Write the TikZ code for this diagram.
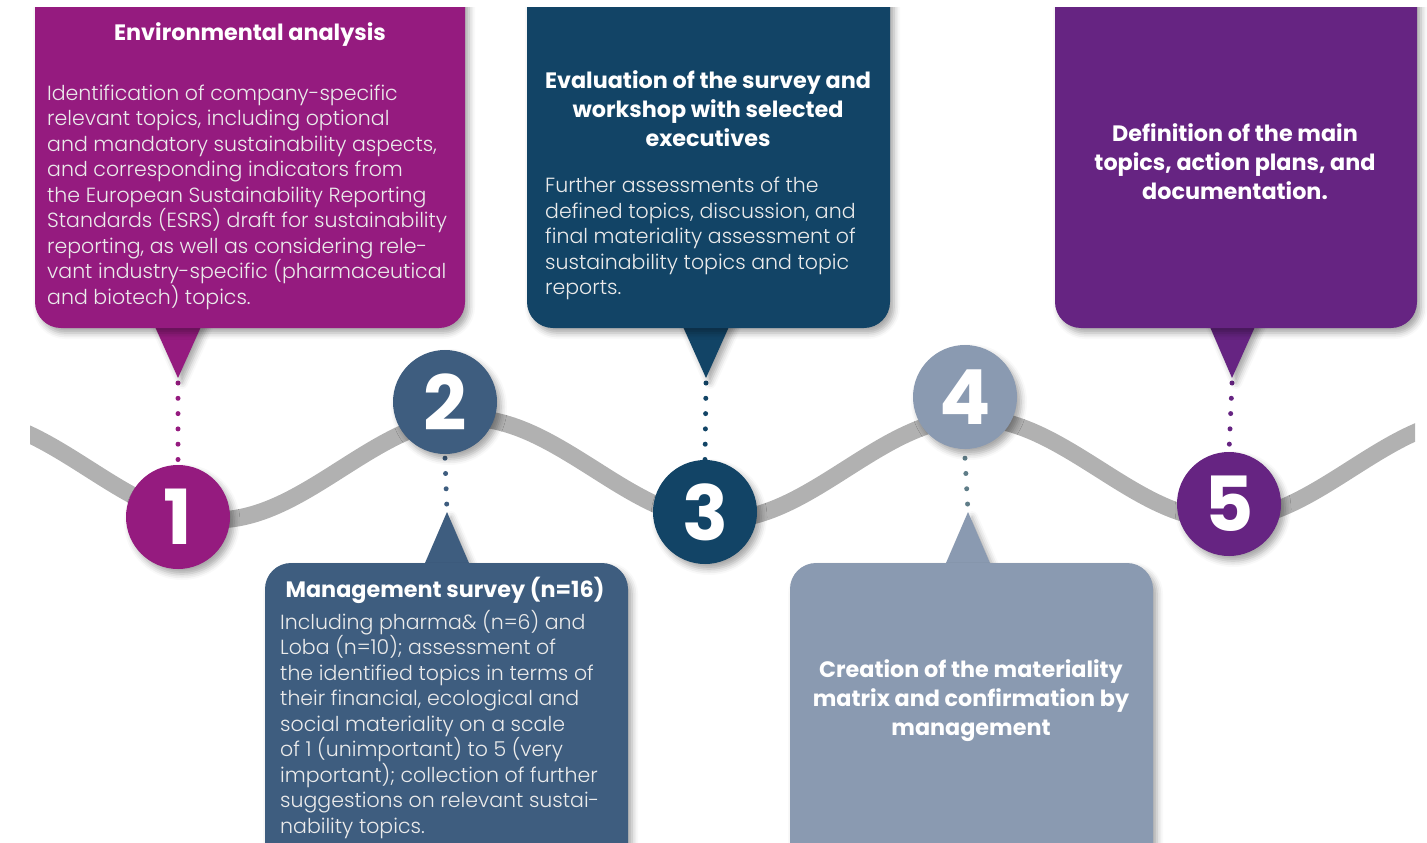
\documentclass[tikz,border=0pt]{standalone}
\usepackage{fontspec}
\setmainfont{Poppins}
\newfontfamily\lightfont{Poppins Light}
\usetikzlibrary{calc,shadows.blur}

\definecolor{stepone}{HTML}{951B7F}
\definecolor{steptwo}{HTML}{3E5D7F}
\definecolor{stepthree}{HTML}{124466}
\definecolor{stepfour}{HTML}{8A9AB1}
\definecolor{stepfive}{HTML}{662482}
\definecolor{dotfour}{HTML}{5F7D88}
\definecolor{wavegray}{HTML}{B1B1B1}

\pgfdeclarelayer{back}
\pgfsetlayers{back,main}

\tikzset{
  shade/.style={blur shadow={shadow xshift=4pt, shadow yshift=-5pt,
      shadow blur radius=6pt, shadow opacity=35}},
  card/.style={fill=#1, rounded corners=26pt, minimum width=363pt,
      minimum height=358pt, inner sep=0pt, shade},
  stepnum/.style={circle, fill=#1, minimum size=104pt, inner sep=0pt,
      text=white, font=\bfseries\fontsize{76}{76}\selectfont, shade},
  title/.style={text=white, align=center, inner sep=0pt,
      font=\bfseries\fontsize{22.3}{29}\selectfont},
  body/.style={text=white!92!black, align=left, inner sep=0pt, anchor=north west,
      font=\lightfont\fontsize{20.5}{25.5}\selectfont},
  dots/.style={#1, line width=5pt, line cap=round, dash pattern=on 0pt off 15.3pt},
  pointer/.style={fill=#1, shade},
}

\begin{document}
\begin{tikzpicture}[x=1pt, y=-1pt]
\useasboundingbox (0,0) rectangle (1427,843);
\clip (0,8) rectangle (1427,843);

% pointers first, the cards cover their shadows
\fill[pointer=stepone] (152,320) -- (178,378) coordinate (tip1) -- (204,320) -- cycle;
\fill[pointer=steptwo] (422,570) -- (447,512) coordinate (tip2) -- (472,570) -- cycle;
\fill[pointer=stepthree] (680,320) -- (706,378) coordinate (tip3) -- (732,320) -- cycle;
\fill[pointer=stepfour] (943,570) -- (968,512) coordinate (tip4) -- (993,570) -- cycle;
\fill[pointer=stepfive] (1207,320) -- (1232,378) coordinate (tip5) -- (1258,320) -- cycle;

% cards
\node[card=stepone, minimum width=430pt] (box1) at (250,149) {};
\node[card=steptwo] (box2) at (446.5,742) {};
\node[card=stepthree] (box3) at (708.5,149) {};
\node[card=stepfour] (box4) at (971.5,742) {};
\node[card=stepfive, minimum width=362pt] (box5) at (1236,149) {};

% texts
\node[title] (t1) at (250,35) {Environmental analysis};
\node[body] (b1) at (47,84.5) {Identification of company-specific\\
relevant topics, including optional\\
and mandatory sustainability aspects,\\
and corresponding indicators from\\
the European Sustainability Reporting\\
Standards (ESRS) draft for sustainability\\
reporting, as well as considering rele-\\
vant industry-specific (pharmaceutical\\
and biotech) topics.};

\node[title] (t2) at (445,590) {Management survey (n=16)};
\node[body] (b2) at (280,610) {Including pharma\& (n=6) and\\
Loba (n=10); assessment of\\
the identified topics in terms of\\
their financial, ecological and\\
social materiality on a scale\\
of 1 (unimportant) to 5 (very\\
important); collection of further\\
suggestions on relevant sustai-\\
nability topics.};

\node[title] (t3) at (708,109) {Evaluation of the survey and\\
workshop with selected\\ executives};
\node[body] (b3) at (545,177) {Further assessments of the\\
defined topics, discussion, and\\
final materiality assessment of\\
sustainability topics and topic\\
reports.};

\node[title] (t4) at (971,701) {Creation of the materiality\\
matrix and confirmation by\\ management};

\node[title] (t5) at (1235,162) {Definition of the main\\
topics, action plans, and\\ documentation.};

% numbered steps
\node[stepnum=stepone] (s1) at (178,517) {1};
\node[stepnum=steptwo] (s2) at (445,402) {2};
\node[stepnum=stepthree] (s3) at (705,512) {3};
\node[stepnum=stepfour] (s4) at (965,397) {4};
\node[stepnum=stepfive] (s5) at (1229,504) {5};

\begin{pgfonlayer}{back}
  \begin{scope}
    \clip (30,0) rectangle (1415,843);
    \draw[wavegray, line width=17pt]
      (-37,418) cos (89,469) sin (215,520) cos (341,469) sin (467,418)
      cos (594,469) sin (720,520) cos (846,469) sin (972,418)
      cos (1099,469) sin (1225,520) cos (1351,469) sin (1477,418);
  \end{scope}
  \draw[dots=stepone] ($(tip1)+(0,5)$) -- (s1.north);
  \draw[dots=steptwo] ($(s2.south)+(0,4)$) -- (tip2);
  \draw[dots=stepthree] ($(tip3)+(0,5)$) -- (s3.north);
  \draw[dots=dotfour] ($(s4.south)+(0,9)$) -- (tip4);
  \draw[dots=stepfive] ($(tip5)+(0,5)$) -- (s5.north);
\end{pgfonlayer}
\end{tikzpicture}
\end{document}
